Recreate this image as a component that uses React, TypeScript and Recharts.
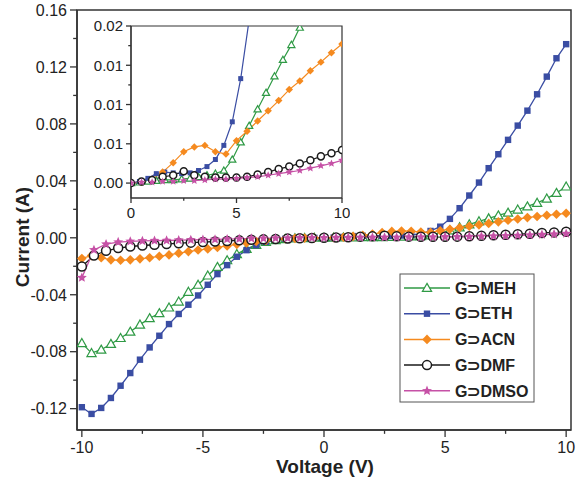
import React from 'react';
import { LineChart, Line, XAxis, YAxis, ReferenceArea } from 'recharts';

// voltage grids (V)
const V_STEP_04 = [
  -10, -9.6, -9.2, -8.8, -8.4, -8, -7.6, -7.2, -6.8, -6.4, -6, -5.6, -5.2, -4.8, -4.4, -4, -3.6, -3.2, -2.8, -2.4, -2, -1.6, -1.2, -0.8, -0.4,
  0, 0.4, 0.8, 1.2, 1.6, 2, 2.4, 2.8, 3.2, 3.6, 4, 4.4, 4.8, 5.2, 5.6, 6, 6.4, 6.8, 7.2, 7.6, 8, 8.4, 8.8, 9.2, 9.6, 10,
];
const V_STEP_05 = [
  -10, -9.5, -9, -8.5, -8, -7.5, -7, -6.5, -6, -5.5, -5, -4.5, -4, -3.5, -3, -2.5, -2, -1.5, -1, -0.5,
  0, 0.5, 1, 1.5, 2, 2.5, 3, 3.5, 4, 4.5, 5, 5.5, 6, 6.5, 7, 7.5, 8, 8.5, 9, 9.5, 10,
];
const V_INSET = [0, 0.5, 1, 1.5, 2, 2.5, 3, 3.5, 4, 4.5, 5, 5.5, 6, 6.5, 7, 7.5, 8, 8.5, 9, 9.5, 10];

// currents (A)
const MEH_I = [
  -0.074, -0.081, -0.0786, -0.0746, -0.0704, -0.066, -0.061, -0.0565, -0.053, -0.049, -0.0448, -0.038, -0.033, -0.0265, -0.0205, -0.0158, -0.0115, -0.0078, -0.005, -0.003, -0.0017, -0.0009, -0.0004, -0.0002, 0,
  0, 0.0001, 0.0002, 0.0003, 0.0004, 0.0004, 0.0005, 0.0006, 0.0008, 0.001, 0.0012, 0.0016, 0.003, 0.0052, 0.0073, 0.0094, 0.0115, 0.0136, 0.0157, 0.0176, 0.0198, 0.022, 0.0245, 0.0275, 0.0315, 0.036,
];
const ETH_I = [
  -0.119, -0.1237, -0.1195, -0.1125, -0.1039, -0.095, -0.0856, -0.077, -0.0688, -0.0606, -0.0535, -0.047, -0.0405, -0.033, -0.0255, -0.0192, -0.0133, -0.0087, -0.0052, -0.0028, -0.0014, -0.0007, -0.0003, -0.0001, 0,
  0, 0.0002, 0.0006, 0.0012, 0.0014, 0.0013, 0.0012, 0.0013, 0.0016, 0.0021, 0.003, 0.0048, 0.0078, 0.0133, 0.0208, 0.0297, 0.0388, 0.0489, 0.0587, 0.0688, 0.0788, 0.0893, 0.1008, 0.1132, 0.1261, 0.136,
];
const ACN_I = [
  -0.0145, -0.0125, -0.014, -0.0155, -0.0158, -0.0155, -0.0148, -0.014, -0.013, -0.012, -0.0108, -0.0097, -0.0086, -0.0078, -0.0068, -0.0057, -0.0046, -0.0036, -0.0026, -0.0018, -0.0012, -0.0007, -0.0004, -0.0002, -0.0001,
  0, 0.0001, 0.0004, 0.001, 0.0017, 0.0026, 0.0037, 0.0045, 0.0048, 0.0046, 0.004, 0.0038, 0.005, 0.006, 0.0071, 0.0081, 0.0091, 0.0101, 0.0112, 0.0123, 0.0132, 0.0142, 0.015, 0.0158, 0.0165, 0.0172,
];
const DMF_I = [
  -0.0201, -0.0124, -0.0091, -0.0072, -0.0061, -0.0054, -0.0049, -0.0044, -0.0038, -0.0034, -0.003, -0.0026, -0.0022, -0.0018, -0.0014, -0.0011, -0.0008, -0.0005, -0.0003, -0.0001,
  0, 0.0002, 0.0004, 0.0008, 0.001, 0.0015, 0.001, 0.0008, 0.0007, 0.0007, 0.0007, 0.0008, 0.0011, 0.0014, 0.0018, 0.0021, 0.0025, 0.0029, 0.0034, 0.0038, 0.0042,
];
const DMSO_I = [
  -0.028, -0.0085, -0.0045, -0.003, -0.0025, -0.0022, -0.002, -0.0019, -0.0017, -0.0015, -0.0013, -0.0011, -0.0009, -0.0007, -0.0005, -0.0004, -0.0003, -0.0002, -0.0001, 0,
  0, 0.0001, 0.0001, 0.0002, 0.0002, 0.0003, 0.0003, 0.0004, 0.0005, 0.0005, 0.0006, 0.0007, 0.0008, 0.001, 0.0012, 0.0014, 0.0016, 0.0019, 0.0022, 0.0025, 0.0029,
];
// inset ACN was sampled every 0.5 V
const ACN_INSET_I = [
  0, 0.0001, 0.0005, 0.0014, 0.0026, 0.004, 0.0046, 0.0048, 0.004, 0.0037, 0.0054, 0.0066, 0.0079, 0.0092, 0.0105, 0.0119, 0.013, 0.0143, 0.0154, 0.0166, 0.0177,
];

const MAIN_X_TICKS = [-10, -7.5, -5, -2.5, 0, 2.5, 5, 7.5, 10];
const MAIN_X_LABELS = [-10, -5, 0, 5, 10];
const MAIN_Y_TICKS = [-0.12, -0.1, -0.08, -0.06, -0.04, -0.02, 0, 0.02, 0.04, 0.06, 0.08, 0.1, 0.12, 0.14, 0.16];
const MAIN_Y_LABELS = [-0.12, -0.08, -0.04, 0, 0.04, 0.08, 0.12, 0.16];
const INSET_X_TICKS = [0, 2.5, 5, 7.5, 10];
const INSET_X_LABELS = [0, 5, 10];
const INSET_Y_TICKS = [0, 0.0025, 0.005, 0.0075, 0.01, 0.0125, 0.015, 0.0175, 0.02];
const INSET_Y_LABELS = [0, 0.005, 0.01, 0.015, 0.02];

const FONT = '"Liberation Sans", Arial, sans-serif';
const AXIS = '#333';

const toPoints = (vs: number[], is: number[]) => vs.map((v, k) => ({ v, i: is[k] }));
const positive = (vs: number[], is: number[]) => toPoints(vs, is).filter(p => p.v >= 0);

const SERIES = [
  { name: 'G⊃MEH', color: '#2f9a45', shape: 'triangle', main: toPoints(V_STEP_04, MEH_I), inset: positive(V_STEP_04, MEH_I) },
  { name: 'G⊃ETH', color: '#3a4da3', shape: 'square', main: toPoints(V_STEP_04, ETH_I), inset: positive(V_STEP_04, ETH_I) },
  { name: 'G⊃ACN', color: '#f58a1f', shape: 'diamond', main: toPoints(V_STEP_04, ACN_I), inset: toPoints(V_INSET, ACN_INSET_I) },
  { name: 'G⊃DMF', color: '#1a1a1a', shape: 'circle', main: toPoints(V_STEP_05, DMF_I), inset: positive(V_STEP_05, DMF_I) },
  { name: 'G⊃DMSO', color: '#c651a6', shape: 'star', main: toPoints(V_STEP_05, DMSO_I), inset: positive(V_STEP_05, DMSO_I) },
];

function starPath(cx: number, cy: number, r: number) {
  let d = '';
  for (let k = 0; k < 10; k++) {
    const rr = k % 2 === 0 ? r : r * 0.45;
    const a = -Math.PI / 2 + (k * Math.PI) / 5;
    d += `${k === 0 ? 'M' : 'L'}${cx + rr * Math.cos(a)},${cy + rr * Math.sin(a)}`;
  }
  return d + 'Z';
}

function Marker({ shape, cx, cy, color, s }: { shape: string; cx: number; cy: number; color: string; s: number }) {
  if (cx == null || cy == null) return null;
  switch (shape) {
    case 'triangle': {
      const h = 4.6 * s;
      return (
        <polygon
          points={`${cx},${cy - h} ${cx + h},${cy + h * 0.75} ${cx - h},${cy + h * 0.75}`}
          fill="#fff" stroke={color} strokeWidth={1.2}
        />
      );
    }
    case 'square': {
      const a = 6.4 * s;
      return <rect x={cx - a / 2} y={cy - a / 2} width={a} height={a} fill={color} />;
    }
    case 'diamond': {
      const r = 4.8 * s;
      return <polygon points={`${cx},${cy - r} ${cx + r},${cy} ${cx},${cy + r} ${cx - r},${cy}`} fill={color} />;
    }
    case 'circle':
      return <circle cx={cx} cy={cy} r={4.5 * s} fill="#fff" stroke={color} strokeWidth={1.5} />;
    default:
      return <path d={starPath(cx, cy, 5.2 * s)} fill={color} />;
  }
}

const isIn = (list: number[], v: number) => list.some(l => Math.abs(l - v) < 1e-9);

function makeXTick(labels: number[], len: number, fontSize: number) {
  return (p: any) => {
    const v = p.payload.value;
    const major = isIn(labels, v);
    return (
      <g>
        <line x1={p.x} x2={p.x} y1={p.y} y2={p.y + (major ? len : len * 0.55)} stroke={AXIS} strokeWidth={1.3} />
        {major && (
          <text x={p.x} y={p.y + len + 3} dy="0.8em" textAnchor="middle" fontSize={fontSize} fontFamily={FONT} fill="#222">
            {String(v)}
          </text>
        )}
      </g>
    );
  };
}

function makeYTick(labels: number[], len: number, fontSize: number) {
  return (p: any) => {
    const v = p.payload.value;
    const major = isIn(labels, v);
    return (
      <g>
        <line x1={p.x} x2={p.x - (major ? len : len * 0.55)} y1={p.y} y2={p.y} stroke={AXIS} strokeWidth={1.3} />
        {major && (
          <text x={p.x - len - 3} y={p.y} dy="0.36em" textAnchor="end" fontSize={fontSize} fontFamily={FONT} fill="#222">
            {v.toFixed(2)}
          </text>
        )}
      </g>
    );
  };
}

const MAIN_X = [-10.2, 10.2];
const MAIN_Y = [-0.135, 0.16];
const INSET_XD = [0, 10];
const INSET_YD = [-0.0019, 0.02];

export default function App() {
  return (
    <div style={{ position: 'absolute', left: 0, top: 0, width: 578, height: 483, background: '#fff', fontFamily: FONT }}>
      <div style={{ position: 'absolute', left: 0, top: 0 }}>
        <LineChart width={578} height={483} margin={{ top: 10, right: 7, bottom: 0, left: 0 }}>
          <XAxis
            dataKey="v" type="number" domain={MAIN_X} ticks={MAIN_X_TICKS} interval={0}
            height={53} tickSize={0} tickMargin={0} tickLine={false}
            axisLine={{ stroke: AXIS, strokeWidth: 1.5 }}
            tick={makeXTick(MAIN_X_LABELS, 7, 16)} allowDataOverflow
          />
          <YAxis
            type="number" domain={MAIN_Y} ticks={MAIN_Y_TICKS} interval={0}
            width={77} tickSize={0} tickMargin={0} tickLine={false}
            axisLine={{ stroke: AXIS, strokeWidth: 1.5 }}
            tick={makeYTick(MAIN_Y_LABELS, 7, 16)} allowDataOverflow
          />
          <ReferenceArea x1={MAIN_X[0]} x2={MAIN_X[1]} y1={MAIN_Y[0]} y2={MAIN_Y[1]} fill="none" stroke={AXIS} strokeWidth={1.5} />
          {SERIES.map(s => (
            <Line
              key={s.name} data={s.main} dataKey="i" type="linear" stroke={s.color} strokeWidth={1.3}
              isAnimationActive={false}
              dot={(p: any) => <Marker key={`m-${s.name}-${p.index}`} shape={s.shape} cx={p.cx} cy={p.cy} color={s.color} s={1} />}
              activeDot={false}
            />
          ))}
        </LineChart>
      </div>

      <div style={{ position: 'absolute', left: 80, top: 10 }}>
        <LineChart width={270} height={215} margin={{ top: 16, right: 8, bottom: 0, left: 0 }}>
          <XAxis
            dataKey="v" type="number" domain={INSET_XD} ticks={INSET_X_TICKS} interval={0}
            height={27} tickSize={0} tickMargin={0} tickLine={false}
            axisLine={{ stroke: AXIS, strokeWidth: 1.2 }}
            tick={makeXTick(INSET_X_LABELS, 5, 15)} allowDataOverflow
          />
          <YAxis
            type="number" domain={INSET_YD} ticks={INSET_Y_TICKS} interval={0}
            width={51} tickSize={0} tickMargin={0} tickLine={false}
            axisLine={{ stroke: AXIS, strokeWidth: 1.2 }}
            tick={makeYTick(INSET_Y_LABELS, 5, 15)} allowDataOverflow
          />
          <ReferenceArea x1={INSET_XD[0]} x2={INSET_XD[1]} y1={INSET_YD[0]} y2={INSET_YD[1]} fill="none" stroke={AXIS} strokeWidth={1.2} />
          {SERIES.map(s => (
            <Line
              key={s.name} data={s.inset} dataKey="i" type="linear" stroke={s.color} strokeWidth={1.2}
              isAnimationActive={false}
              dot={(p: any) => <Marker key={`n-${s.name}-${p.index}`} shape={s.shape} cx={p.cx} cy={p.cy} color={s.color} s={0.78} />}
              activeDot={false}
            />
          ))}
        </LineChart>
      </div>

      <svg width={578} height={483} style={{ position: 'absolute', left: 0, top: 0, pointerEvents: 'none' }}>
        <text x={22} y={237} transform="rotate(-90 22 237)" textAnchor="middle" dy="0.35em" fontSize={19} fontWeight="bold" fontFamily={FONT} fill="#222">
          Current (A)
        </text>
        <text x={325} y={473} textAnchor="middle" fontSize={19} fontWeight="bold" fontFamily={FONT} fill="#222">
          Voltage (V)
        </text>
        <rect x={400} y={274} width={134} height={128} fill="#fff" stroke="#555" strokeWidth={1} />
        {SERIES.map((s, k) => {
          const y = 288 + k * 25.7;
          return (
            <g key={s.name}>
              <line x1={404} x2={450} y1={y} y2={y} stroke={s.color} strokeWidth={1.5} />
              <Marker shape={s.shape} cx={427} cy={y} color={s.color} s={1} />
              <text x={455} y={y} dy="0.36em" fontSize={16} fontWeight="bold" fontFamily={FONT} fill="#222">
                {s.name}
              </text>
            </g>
          );
        })}
      </svg>
    </div>
  );
}
